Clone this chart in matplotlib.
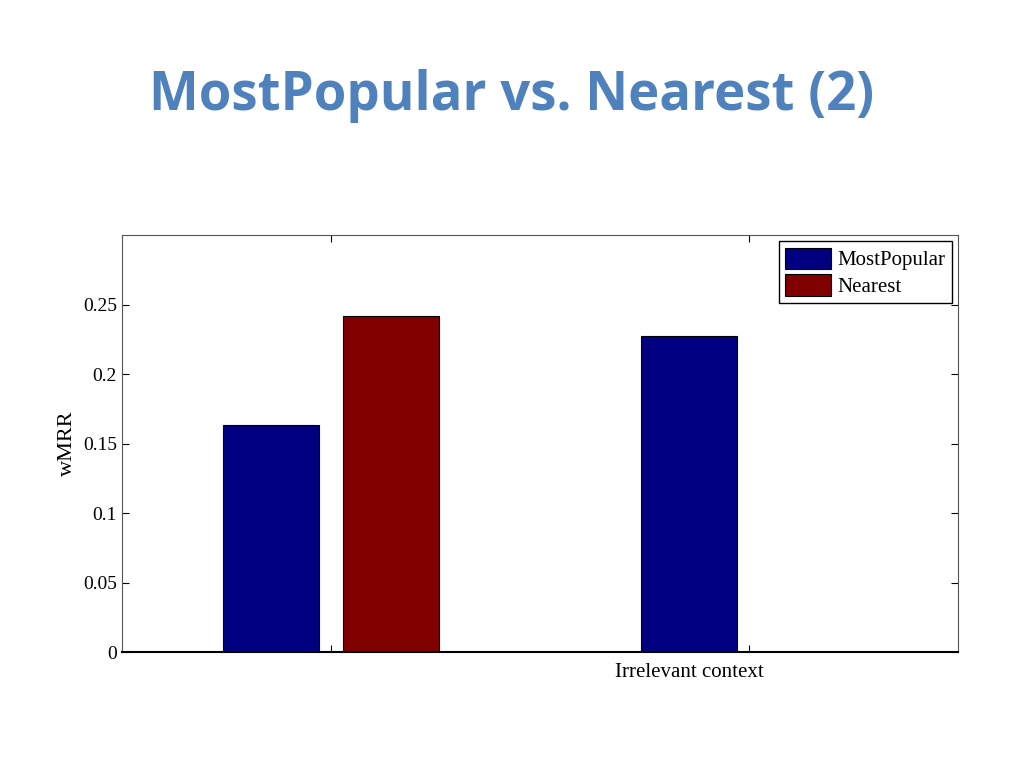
import numpy as np
import matplotlib.pyplot as plt

categories = ['Relevant context', 'Irrelevant context']
most_popular = [0.163, 0.2275]
nearest = [0.2418, 0.0]

plt.rcParams['font.family'] = 'Liberation Serif'

fig = plt.figure(figsize=(10.24, 7.68), dpi=100)
fig.text(0.5, 0.875, 'MostPopular vs. Nearest (2)', ha='center', va='center',
         fontsize=38, fontweight='bold', color='#4F81BD', family='Open Sans')

ax = fig.add_axes([0.119, 0.151, 0.8164, 0.543])
x = np.array([1, 2])
w = 0.23
ax.bar(x - 0.1435, most_popular, w, color='#000080', edgecolor='black', linewidth=0.8, label='MostPopular')
ax.bar(x + 0.1435, nearest, w, color='#800000', edgecolor='black', linewidth=0.8, label='Nearest')

ax.set_xlim(0.5, 2.5)
ax.set_ylim(0, 0.3)
ax.set_yticks([0, 0.05, 0.1, 0.15, 0.2, 0.25])
ax.set_yticklabels(['0', '0.05', '0.1', '0.15', '0.2', '0.25'])
ax.set_xticks(x)
ax.set_xticklabels([])
# category labels placed as in the reference
ax.set_xticks([1, 1.857], minor=True)
ax.set_xticklabels(categories, minor=True, fontsize=15)
ax.tick_params(axis='x', which='minor', length=0, pad=8)
ax.tick_params(which='major', direction='in', top=True, right=True, labelsize=14, length=5)
ax.set_ylabel('wMRR', fontsize=16)
for s in ['top', 'right', 'left']:
    ax.spines[s].set_color('#555555')
ax.spines['bottom'].set_linewidth(1.5)

leg = ax.legend(loc='upper right', fontsize=15, fancybox=False, framealpha=1,
                edgecolor='black', borderaxespad=0.3, handlelength=2.2, handleheight=1.2,
                handletextpad=0.3, borderpad=0.3, labelspacing=0.2)

fig.savefig('out.png', dpi=100)
